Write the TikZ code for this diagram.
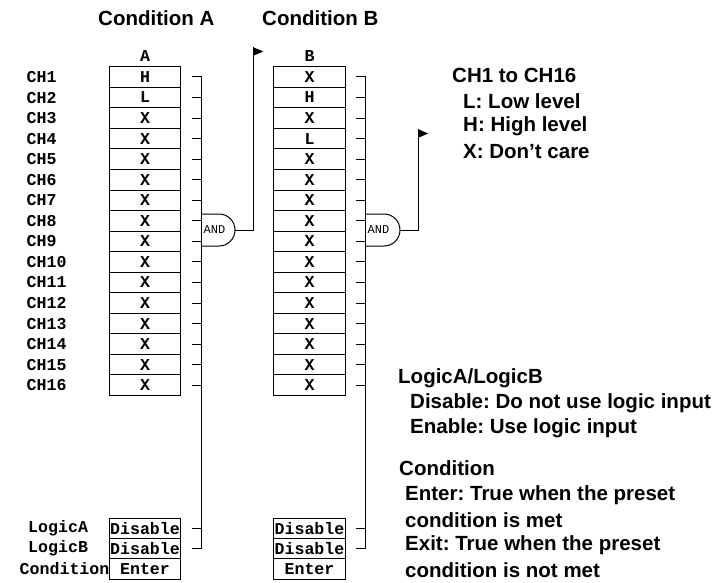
\documentclass[tikz,border=0pt]{standalone}
\usepackage{fontspec}
\setmainfont{Liberation Sans}
\newfontfamily\pixfont{Liberation Mono}
\frenchspacing
\begin{document}
\begin{tikzpicture}[x=1pt,y=-1pt,
  wire/.style={line width=1pt},
  cell/.style={draw, line width=1pt, minimum width=71.4pt, minimum height=20.55pt, inner sep=0pt,
    font=\pixfont\bfseries\fontsize{16.6}{16.6}\selectfont},
  bcell/.style={cell, minimum height=20.4pt},
  lab/.style={anchor=west, inner sep=0pt, font=\pixfont\bfseries\fontsize{16.6}{16.6}\selectfont},
  colhead/.style={inner sep=0pt, font=\pixfont\bfseries\fontsize{16.6}{16.6}\selectfont},
  andlab/.style={inner sep=0pt, font=\pixfont\fontsize{12}{12}\selectfont},
  head/.style={anchor=west, inner sep=0pt, font=\bfseries\fontsize{20.5}{20.5}\selectfont},
  txt/.style={anchor=west, inner sep=0pt, font=\bfseries\fontsize{20.5}{20.5}\selectfont},
  flag/.style={fill=black}]
\useasboundingbox (0,0) rectangle (715,582);
\fill[white] (0,0) rectangle (715,582);

% headers
\node[head] (hA) at (98,18) {Condition A};
\node[head] (hB) at (262,18) {Condition B};
\node[colhead] (colA) at (145,56) {A};
\node[colhead] (colB) at (309.5,56) {B};

% table A
\foreach \v [count=\i] in {H,L,X,X,X,X,X,X,X,X,X,X,X,X,X,X} {
  \node[cell] (a\i) at (145,{66.7+(\i-0.5)*20.55}) {\v};
  \node[lab] (ch\i) at (26.5,{66.7+(\i-0.5)*20.55}) {CH\i};
  \draw[wire] ([xshift=11pt]a\i.east) -- ++(9.3,0);
}
% table B
\foreach \v [count=\i] in {X,H,X,L,X,X,X,X,X,X,X,X,X,X,X,X} {
  \node[cell] (b\i) at (309.5,{66.7+(\i-0.5)*20.55}) {\v};
  \draw[wire] ([xshift=10pt]b\i.east) -- ++(10,0);
}

% bottom cells
\node[bcell] (aLA) at (145,528.2) {Disable};
\node[bcell] (aLB) at (145,548.6) {Disable};
\node[bcell] (aC)  at (145,569) {Enter};
\node[bcell] (bLA) at (309.5,528.2) {Disable};
\node[bcell] (bLB) at (309.5,548.6) {Disable};
\node[bcell] (bC)  at (309.5,569) {Enter};
\node[lab] (lLA) at (28,528.2) {LogicA};
\node[lab] (lLB) at (28,548.6) {LogicB};
\node[lab] (lC)  at (19.5,569) {Condition};
\foreach \n in {LA,LB} {
  \draw[wire] ([xshift=11pt]a\n.east) -- ++(9.3,0);
  \draw[wire] ([xshift=10pt]b\n.east) -- ++(10,0);
}

% buses
\coordinate (busAtop) at (201,{66.7+0.5*20.55});
\coordinate (busAbot) at (201,548.6);
\coordinate (busBtop) at (365,{66.7+0.5*20.55});
\coordinate (busBbot) at (365,548.6);
\draw[wire] (busAtop) -- (busAbot);
\draw[wire] (busBtop) -- (busBbot);

% AND gates
\draw[wire] (201,214) -- (219,214) arc[start angle=-90,end angle=90,radius=16] -- (201,246);
\node[andlab] (gA) at (214.5,230) {AND};
\coordinate (gAout) at (235,230);
\draw[wire] (365,214) -- (384,214) arc[start angle=-90,end angle=90,radius=16] -- (365,246);
\node[andlab] (gB) at (378.5,230) {AND};
\coordinate (gBout) at (400,230);

% outputs with flags
\coordinate (fA) at (253.3,47.3);
\coordinate (fB) at (418.3,129.3);
\draw[wire] (gAout) -| (fA);
\draw[wire] (gBout) -| (fB);
\fill[flag] (fA) -- ++(10,4.2) -- ++(-10,4.2) -- cycle;
\fill[flag] (fB) -- ++(10,4.2) -- ++(-10,4.2) -- cycle;

% legend texts
\node[txt] (t1) at (452,75) {CH1 to CH16};
\node[txt] (t2) at (463,100.7) {L: Low level};
\node[txt] (t3) at (463,126.3) {H: High level};
\node[txt] (t4) at (463,151.9) {X: Don’t care};

\node[txt] (t5) at (398,378) {LogicA/LogicB};
\node[txt] (t6) at (410,403) {Disable: Do not use logic input};
\node[txt] (t7) at (410,428) {Enable: Use logic input};
\node[txt] (t8) at (399,468) {Condition};
\node[txt] (t9) at (405,495) {Enter: True when the preset};
\node[txt] (t10) at (405,520) {condition is met};
\node[txt] (t11) at (405,545) {Exit: True when the preset};
\node[txt] (t12) at (405,570) {condition is not met};
\end{tikzpicture}
\end{document}
